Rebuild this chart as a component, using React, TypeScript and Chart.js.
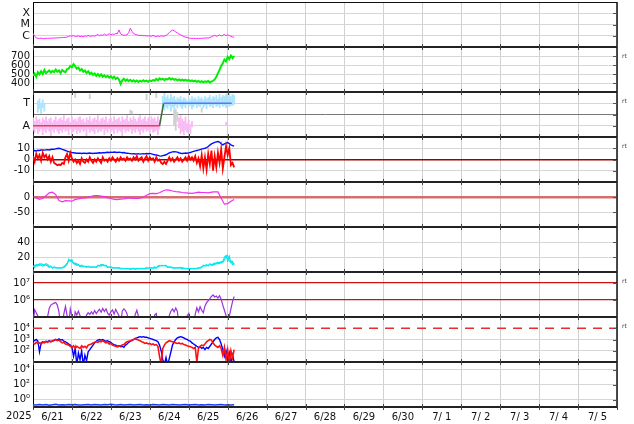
import React, { useEffect, useRef } from 'react';
import { Chart, registerables } from 'chart.js';

Chart.register(...registerables);

const FONT = 'DejaVu Sans';

// ---------------- time axis (hours since 2025-06-21 00:00) ----------------
const DAY_LABELS = ['6/21', '6/22', '6/23', '6/24', '6/25', '6/26', '6/27', '6/28', '6/29', '6/30', '7/ 1', '7/ 2', '7/ 3', '7/ 4', '7/ 5'];
const YEAR_LABEL = '2025';
const SPAN_HOURS = 360;

// ---------------- panel 1: X-ray flux, in units of 1e-6 W/m2 (C-class) ----------------
const xrayC = [
  1.6, 0.9, 0.65, 0.6, 0.58, 0.62, 0.57, 0.55, 0.6, 0.58,
  0.6, 0.62, 0.6, 0.64, 0.62, 0.66, 0.64, 0.7, 0.68, 0.72,
  0.7, 0.78, 0.85, 1.0, 0.9, 1.05, 0.85, 0.9, 0.95, 0.85,
  0.9, 0.82, 0.95, 0.88, 1.1, 0.9, 0.95, 1.0, 0.9, 1.1,
  1.3, 1.0, 1.2, 1.05, 1.4, 1.1, 1.25, 1.5, 1.2, 1.4,
  1.3, 1.6, 1.5, 3.3, 1.5, 1.2, 1.1, 1.15, 1.2, 2.0,
  4.6, 2.5, 1.6, 1.3, 1.2, 1.1, 1.05, 1.1, 1.0, 1.05,
  0.95, 1.0, 0.95, 0.9, 1.1, 0.9, 0.85, 0.95, 0.88, 1.0,
  0.9, 0.95, 1.05, 1.4, 1.9, 2.6, 3.2, 2.8, 2.2, 1.8,
  1.4, 1.2, 1.0, 0.85, 0.75, 0.7, 0.62, 0.6, 0.58, 0.6,
  0.56, 0.58, 0.55, 0.6, 0.58, 0.62, 0.6, 0.65, 0.62, 0.7,
  0.8, 0.95, 1.1, 0.9, 1.0, 1.2, 0.95, 1.1, 1.3, 1.0,
  1.2, 1.05, 0.9, 0.8, 0.72,
];
const XRAY_TICKS = [1e-4, 1e-5, 1e-6];
const XRAY_LABELS = ['X', 'M', 'C'];

// ---------------- panel 2: solar wind speed (km/s), hourly ----------------
const windSpeed = [
  480, 505, 470, 520, 495, 530, 500, 545, 510, 525,
  540, 515, 535, 520, 550, 525, 540, 510, 545, 530,
  520, 555, 560, 590, 575, 610, 585, 560, 570, 540,
  555, 525, 540, 510, 530, 500, 515, 490, 505, 480,
  500, 475, 495, 470, 485, 465, 480, 460, 475, 455,
  470, 445, 460, 440, 390, 430, 448, 425, 440, 420,
  435, 418, 430, 415, 428, 412, 425, 415, 430, 418,
  426, 414, 428, 420, 432, 425, 445, 430, 452, 438,
  448, 432, 445, 440, 455, 438, 450, 436, 444, 430,
  440, 428, 438, 426, 436, 424, 434, 420, 430, 418,
  425, 412, 422, 410, 420, 408, 418, 412, 422, 405,
  415, 425, 440, 470, 510, 545, 590, 620, 660, 640,
  690, 665, 705, 675, 700,
];
const SPEED_TICKS = [700, 600, 500, 400];
const SPEED_LABELS = ['700', '600', '500', '400'];

// ---------------- panel 3: IMF sector (T = +1, A = -1) ----------------
// hourly ranges of "away" samples, from hour 0
const awayLo = [
  -1.4, -1.6, -1.3, -1.7, -1.5, -1.3, -1.8, -1.4, -1.6, -1.3,
  -1.5, -1.9, -1.4, -1.6, -1.3, -1.5, -1.7, -1.4, -1.6, -1.3,
  -1.5, -1.4, -1.8, -1.3, -1.6, -1.5, -1.3, -1.7, -1.4, -1.6,
  -1.3, -1.5, -1.4, -1.9, -1.3, -1.6, -1.4, -1.5, -1.7, -1.3,
  -1.6, -1.4, -1.5, -1.3, -1.8, -1.4, -1.6, -1.3, -1.5, -1.4,
  -1.7, -1.3, -1.6, -1.4, -1.5, -1.9, -1.3, -1.6, -1.4, -1.5,
  -1.3, -1.7, -1.4, -1.6, -1.3, -1.5, -1.8, -1.4, -1.6, -1.3,
  -1.5, -1.4, -1.7, -1.3, -1.6, -1.5, -1.4, -1.8, -1.3,
];
const awayHi = [
  -0.3, -0.6, -0.2, -0.5, -0.4, -0.7, -0.3, -0.5, -0.2, -0.6,
  -0.4, -0.3, -0.7, -0.5, -0.2, -0.6, -0.4, -0.3, -0.5, -0.1,
  -0.6, -0.4, -0.3, -0.7, -0.2, -0.5, -0.4, -0.6, -0.3, -0.2,
  -0.5, -0.4, -0.7, -0.3, -0.5, -0.2, -0.6, -0.4, -0.3, -0.5,
  -0.1, -0.6, -0.4, -0.3, -0.5, -0.2, -0.7, -0.4, -0.3, -0.6,
  -0.2, -0.5, -0.4, -0.3, -0.6, -0.2, -0.5, -0.4, -0.1, -0.6,
  -0.3, -0.5, -0.2, -0.4, -0.6, -0.3, -0.1, -0.5, -0.4, -0.2,
  -0.6, -0.3, -0.5, -0.2, -0.4, -0.3, -0.6, -0.2, -0.5,
];
// hourly ranges of "toward" samples, from hour 80
const TOWARD_START = 80;
const towardLo = [
  0.6, 0.4, 0.7, 0.5, 0.8, 0.3, 0.7, 0.5, 0.8, 0.6,
  0.9, 0.7, 0.5, 0.8, 0.6, 0.9, 0.7, 0.8, 0.5, 0.7,
  0.9, 0.6, 0.8, 0.7, 0.9, 0.6, 0.8, 0.5, 0.9, 0.7,
  0.8, 0.6, 0.9, 0.7, 0.8, 0.6, 0.9, 0.7, 0.8, 0.6,
  0.9, 0.7, 0.8, 0.8, 0.9,
];
const towardHi = [
  1.6, 1.9, 1.5, 1.7, 1.4, 1.8, 1.5, 1.6, 1.3, 1.5,
  1.4, 1.6, 1.3, 1.5, 1.4, 1.2, 1.5, 1.3, 1.6, 1.4,
  1.5, 1.3, 1.6, 1.4, 1.5, 1.3, 1.6, 1.4, 1.5, 1.7,
  1.4, 1.6, 1.5, 1.7, 1.4, 1.8, 1.5, 1.7, 1.6, 1.8,
  1.5, 1.9, 1.6, 1.8, 1.7,
];
const earlyTowardHours = [3, 4, 5, 6, 7];
const earlyTowardLo = [0.2, 0.5, 0.1, 0.6, 0.3];
const earlyTowardHi = [1.2, 1.4, 1.0, 1.3, 0.9];
const lateAwayHours = [90, 91, 92, 93, 94, 95, 96, 97, 98, 119];
const lateAwayLo = [-1.2, -1.7, -1.5, -1.8, -1.4, -1.6, -1.3, -1.7, -1.1, -0.95];
const lateAwayHi = [-0.3, -0.1, -0.4, -0.6, -0.2, -0.8, -0.5, -0.9, -0.6, -0.7];
const otherHours = [26, 35, 60, 61, 70, 76, 87, 88, 89, 104];
const otherLo = [1.5, 1.4, 0.1, 0.0, 1.3, 1.5, -1.0, -1.4, -0.6, 0.2];
const otherHi = [1.9, 1.8, 0.4, 0.3, 1.8, 1.9, 0.4, 0.5, 0.2, 0.6];
const sectorHours = [0, 78, 80.5, 122.5];
const sectorValues = [-1, -1, 1, 1];
const SECTOR_TICKS = [1, 0, -1];
const SECTOR_LABELS = ['T', '', 'A'];

// ---------------- panel 4: IMF Bt / Bz (nT), hourly ----------------
const imfBt = [
  7.8, 8.0, 7.6, 8.2, 8.0, 8.4, 8.5, 8.3, 8.6, 8.8,
  8.5, 8.9, 9.2, 9.0, 9.5, 9.8, 10.0, 9.6, 9.0, 8.5,
  8.0, 7.5, 7.0, 6.6, 6.2, 6.0, 5.8, 5.6, 5.5, 5.6,
  5.4, 5.6, 5.5, 5.3, 5.6, 5.8, 5.5, 5.4, 5.7, 5.6,
  5.8, 6.0, 5.8, 6.1, 6.0, 6.2, 6.4, 6.2, 6.5, 6.3,
  6.6, 6.4, 6.2, 6.5, 6.3, 6.0, 6.2, 5.8, 5.6, 5.4,
  5.2, 5.0, 5.2, 4.9, 5.0, 5.2, 4.8, 5.0, 5.2, 5.0,
  5.3, 5.1, 5.4, 5.0, 4.6, 4.2, 4.0, 3.6, 3.2, 3.0,
  3.4, 3.8, 4.2, 5.0, 5.8, 6.4, 6.8, 7.0, 6.8, 6.5,
  6.0, 5.6, 5.4, 5.5, 5.8, 5.6, 5.9, 6.2, 6.8, 7.2,
  7.6, 8.0, 8.4, 8.8, 9.2, 9.6, 10.0, 10.5, 11.5, 12.8,
  13.8, 14.5, 15.2, 15.6, 16.0, 15.5, 14.0, 13.0, 13.8, 14.5,
  15.0, 14.2, 13.0, 12.4, 11.8,
];
const imfBz = [
  3, -2, 5, 1, 4, -1, 6, 2, 4, 0,
  3, -2, 2, -3, -4, -5, -4.5, -5, -3, -4,
  2, 5, -1, 6, 1, -2, 0, -3, -1, -4,
  1, -2, -3, 0, -2, 2, -1, -3, 0, -2,
  1, -1, -3, 2, -1, 0, -2, 1, -1, 2,
  0, -2, 1, -1, 2, 0, 1, -1, 2, 0,
  1, -1, 2, 0, 3, -1, 1, 2, -2, 1,
  3, -1, 2, 0, 1, -2, 2, -1, 0, -3,
  -4, -2, -4, -1, 2, -1, 1, -2, 0, 2,
  -1, 1, -2, 0, 2, -1, 3, 0, 2, -1,
  3, -3, 1, -6, 4, -8, 2, -9, 5, -4,
  8, -10, 3, -7, 6, -3, 9, -8, 2, 12,
  4, 10, -5, -3, -7,
];
const IMF_TICKS = [10, 0, -10];
const IMF_LABELS = ['10', '0', '-10'];

// ---------------- panel 5: Dst (nT), every 2 hours ----------------
const dst2h = [
  0, -3, -8, -4, 4, 14, 16, 8, -12, -16,
  -12, -13, -14, -8, -6, -4, -3, -1, 2, 5,
  5, 3, 1, -2, -5, -8, -9, -7, -6, -4,
  -4, -5, -5, -4, 0, 6, 11, 12, 11, 14,
  20, 24, 23, 20, 18, 17, 15, 14, 13, 12,
  14, 16, 15, 15, 14, 16, 17, 17, -4, -24,
  -22, -14, -8,
];
const DST_TICKS = [0, -50];
const DST_LABELS = ['0', '-50'];

// ---------------- panel 6: proton density (p/cc), hourly, two sources ----------------
const densityA = [
  7, 9, 8, 10, 9, 11, 10, 9, 11, 10,
  8, 7, 6, 7, 6, 5, 6, 5, 6, 7,
  9, 12, 15, 16, 14, 12, 10, 11, 9, 8,
  9, 7, 8, 7, 8, 7, 6, 7, 6, 7,
  8, 9, 8, 10, 9, 8, 7, 6, 7, 6,
  5, 6, 5, 6, 5, 5, 4, 5, 4, 5,
  4, 5, 4, 4, 5, 4, 5, 4, 5, 4,
  5, 5, 6, 5, 6, 5, 6, 7, 8, 9,
  8, 9, 8, 7, 6, 7, 6, 5, 6, 5,
  6, 5, 6, 5, 4, 5, 4, 5, 4, 5,
  5, 4, 5, 6, 7, 8, 9, 8, 9, 10,
  9, 11, 10, 12, 11, 13, 12, 14, 20, 22,
  15, 21, 12, 14, 9,
];
const densityB = [
  8, 6, 10, 8, 11, 9, 8, 10, 9, 8,
  6, 8, 5, 6, 5, 6, 5, 6, 5, 6,
  8, 10, 17, 14, 16, 11, 12, 9, 10, 7,
  8, 8, 7, 6, 7, 6, 7, 6, 7, 6,
  9, 8, 10, 9, 8, 9, 6, 7, 6, 5,
  6, 5, 6, 5, 4, 4, 5, 4, 5, 4,
  3.5, 4, 5, 3.5, 4, 5, 4, 5, 4, 5,
  6, 5, 5, 6, 5, 7, 5, 8, 9, 8,
  9, 8, 9, 6, 7, 6, 5, 6, 5, 6,
  5, 6, 4, 5, 5, 4, 5, 4, 5, 4,
  4, 5, 6, 5, 6, 9, 8, 10, 8, 11,
  10, 9, 12, 11, 13, 11, 14, 13, 16, 21,
  22, 14, 15, 10, 12,
];
const DENSITY_TICKS = [40, 20];
const DENSITY_LABELS = ['40', '20'];

// ---------------- panel 7: >2 MeV electron flux, in units of 1e5, hourly ----------------
const electronFlux1e5 = [
  0.3, 2.7, 1.8, 1.1, 0.3, 0.3, 0.3, 0.3, 0.3, 1.05,
  3.2, 5.0, 5.8, 6.5, 7.2, 5.0, 2.0, 0.3, 0.3, 1.5,
  4.2, 1.2, 0.3, 3.0, 1.1, 0.3, 2.0, 1.3, 2.2, 1.2,
  0.3, 0.3, 0.3, 1.3, 1.8, 1.4, 2.0, 1.5, 2.4, 1.6,
  2.2, 2.8, 1.9, 3.2, 2.1, 3.0, 1.7, 1.3, 2.0, 2.6,
  1.5, 2.8, 1.8, 1.2, 0.3, 2.2, 3.0, 2.4, 1.5, 0.3,
  0.3, 0.3, 0.3, 1.4, 2.5, 1.1, 0.3, 0.3, 0.3, 0.3,
  0.3, 0.3, 0.3, 0.3, 0.3, 1.3, 1.6, 0.3, 0.3, 0.3,
  0.3, 0.3, 0.3, 0.3, 1.2, 2.2, 3.0, 2.0, 3.4, 2.1,
  0.3, 0.3, 0.3, 0.3, 0.3, 1.2, 1.6, 0.3, 0.3, 0.3,
  1.5, 3.5, 2.0, 4.0, 2.5, 1.8, 4.5, 7.0, 9.0, 12,
  16, 20, 15, 17, 13, 18, 11, 5.0, 2.5, 1.2,
  0.3, 1.1, 3.0, 8.0, 16,
];
const ELECTRON_TICKS = [1e7, 1e6];
const ELECTRON_LABELS = ['10⁷', '10⁶'];

// ---------------- panel 8: proton flux, hourly, two channels ----------------
const protonBlue = [
  890, 790, 1000, 710, 80, 500, 630, 560, 710, 630,
  790, 630, 710, 790, 1000, 890, 1120, 890, 1000, 710,
  630, 500, 400, 320, 200, 32, 160, 6, 63, 16,
  100, 5, 40, 13, 80, 126, 200, 320, 500, 710,
  890, 1000, 890, 1000, 790, 710, 790, 630, 560, 400,
  355, 320, 250, 280, 225, 250, 200, 320, 400, 560,
  710, 790, 1000, 1260, 1410, 1580, 1780, 1580, 1780, 1580,
  1580, 1410, 1260, 1120, 1000, 890, 790, 630, 320, 100,
  16, 6, 25, 5, 20, 80, 320, 630, 1000, 1410,
  1580, 1780, 1580, 1410, 1120, 1000, 790, 710, 500, 400,
  320, 250, 200, 225, 160, 200, 126, 200, 160, 250,
  400, 630, 1000, 1410, 1580, 1000, 400, 126, 32, 100,
  16, 63, 6, 40, 10,
];
const protonRed = [
  500, 400, 560, 450, 500, 400, 560, 500, 630, 560,
  710, 630, 790, 890, 1000, 790, 890, 630, 500, 560,
  400, 355, 320, 250, 200, 280, 160, 250, 200, 160,
  280, 200, 250, 180, 320, 355, 400, 500, 560, 630,
  560, 710, 630, 790, 630, 500, 560, 400, 450, 320,
  280, 250, 225, 250, 280, 320, 355, 500, 630, 710,
  790, 890, 1000, 1120, 1000, 890, 790, 630, 560, 450,
  500, 400, 450, 355, 400, 320, 355, 250, 32, 6,
  160, 320, 500, 630, 790, 710, 630, 560, 500, 450,
  500, 400, 450, 355, 320, 280, 250, 225, 200, 160,
  200, 10, 160, 250, 320, 280, 400, 630, 790, 1000,
  890, 500, 320, 250, 200, 280, 160, 40, 200, 16,
  126, 8, 100, 25, 126,
];
const PROTON_THRESHOLD = 1e4;
const PROTON_TICKS = [1e4, 1e3, 1e2];
const PROTON_LABELS = ['10⁴', '10³', '10²'];

// ---------------- panel 9: every 2 hours ----------------
const lowFlux2h = [
  0.2, 0.18, 0.22, 0.19, 0.21, 0.17, 0.2, 0.23, 0.19, 0.2,
  0.18, 0.21, 0.2, 0.22, 0.19, 0.18, 0.2, 0.21, 0.19, 0.22,
  0.2, 0.18, 0.21, 0.2, 0.24, 0.2, 0.19, 0.21, 0.18, 0.2,
  0.22, 0.19, 0.2, 0.21, 0.18, 0.2, 0.19, 0.22, 0.2, 0.18,
  0.21, 0.2, 0.19, 0.21, 0.2, 0.18, 0.2, 0.22, 0.19, 0.2,
  0.21, 0.18, 0.2, 0.19, 0.21, 0.2, 0.18, 0.2, 0.21, 0.19,
  0.2, 0.18, 0.2,
];
const LOW_TICKS = [1e4, 1e2, 1];
const LOW_LABELS = ['10⁴', '10²', '10⁰'];

// ---------------- helpers ----------------
const series = (values: number[], step = 1, start = 0, scale = 1) =>
  values.map((v, i) => ({ x: start + i * step, y: v * scale }));
const ranges = (hours: number[], lo: number[], hi: number[]) =>
  hours.map((h, i) => ({ x: h, y: [lo[i], hi[i]] }));
const rangesFrom = (start: number, lo: number[], hi: number[]) =>
  lo.map((l, i) => ({ x: start + i, y: [l, hi[i]] }));

const LIGHT = '#d6d6d6';
const near = (a: number, b: number) => Math.abs(a - b) <= Math.abs(b) * 1e-6 + 1e-9;

type GridStyle = { color: string; width: number };
type Panel = {
  id: string;
  type: 'linear' | 'logarithmic';
  min: number;
  max: number;
  ticks: number[];
  labels: string[];
  labelSize: number;
  grid: (v: number) => GridStyle;
  rt: boolean;
};

const light = (): GridStyle => ({ color: LIGHT, width: 1 });

const PANELS: Panel[] = [
  { id: 'p1', type: 'logarithmic', min: 1e-7, max: 1e-3, ticks: XRAY_TICKS, labels: XRAY_LABELS, labelSize: 11, grid: light, rt: false },
  { id: 'p2', type: 'linear', min: 300, max: 800, ticks: SPEED_TICKS, labels: SPEED_LABELS, labelSize: 10, grid: light, rt: true },
  { id: 'p3', type: 'linear', min: -2, max: 2, ticks: SECTOR_TICKS, labels: SECTOR_LABELS, labelSize: 11, grid: (v) => (near(v, 0) ? { color: '#777777', width: 1 } : light()), rt: true },
  { id: 'p4', type: 'linear', min: -20, max: 20, ticks: IMF_TICKS, labels: IMF_LABELS, labelSize: 10, grid: (v) => (near(v, 0) ? { color: '#a00000', width: 1.4 } : light()), rt: true },
  { id: 'p5', type: 'linear', min: -100, max: 50, ticks: DST_TICKS, labels: DST_LABELS, labelSize: 10, grid: (v) => (near(v, 0) ? { color: 'rgba(205,95,95,0.9)', width: 2.5 } : light()), rt: false },
  { id: 'p6', type: 'linear', min: 0, max: 60, ticks: DENSITY_TICKS, labels: DENSITY_LABELS, labelSize: 10, grid: light, rt: false },
  { id: 'p7', type: 'logarithmic', min: 1e5, max: 4.4e7, ticks: ELECTRON_TICKS, labels: ELECTRON_LABELS, labelSize: 10, grid: () => ({ color: '#cc1010', width: 1.3 }), rt: true },
  { id: 'p8', type: 'logarithmic', min: 10, max: 1e5, ticks: PROTON_TICKS, labels: PROTON_LABELS, labelSize: 10, grid: (v) => (near(v, PROTON_THRESHOLD) ? { color: 'rgba(0,0,0,0)', width: 0 } : light()), rt: true },
  { id: 'p9', type: 'logarithmic', min: 0.1, max: 1e5, ticks: LOW_TICKS, labels: LOW_LABELS, labelSize: 10, grid: light, rt: false },
];

function yScale(p: Panel) {
  return {
    type: p.type,
    position: 'left',
    stack: 'panels',
    stackWeight: 1,
    min: p.min,
    max: p.max,
    stacked: false,
    clip: true,
    offset: false,
    afterBuildTicks: (s: any) => {
      s.ticks = p.ticks.map((v) => ({ value: v }));
    },
    afterFit: (s: any) => {
      s.width = 33;
      s.paddingTop = 0;
      s.paddingBottom = 0;
    },
    ticks: {
      autoSkip: false,
      padding: 3,
      color: '#111',
      font: { family: FONT, size: p.labelSize },
      callback: (_v: any, i: number) => p.labels[i],
    },
    grid: {
      drawTicks: false,
      offset: false,
      color: (c: any) => (c.tick ? p.grid(c.tick.value).color : 'rgba(0,0,0,0)'),
      lineWidth: (c: any) => (c.tick ? p.grid(c.tick.value).width : 0),
    },
    border: { display: true, color: '#000', width: 1 },
  };
}

const framePlugin = {
  id: 'panelFrame',
  afterDraw(chart: any) {
    const { ctx, chartArea: a } = chart;
    const xs = chart.scales.x;
    ctx.save();
    // top and right frame
    ctx.strokeStyle = '#111';
    ctx.lineWidth = 1;
    ctx.beginPath();
    ctx.moveTo(a.left, a.top + 0.5);
    ctx.lineTo(a.right, a.top + 0.5);
    ctx.stroke();
    ctx.lineWidth = 1.5;
    ctx.beginPath();
    ctx.moveTo(a.right, a.top);
    ctx.lineTo(a.right, a.bottom);
    ctx.stroke();
    // small tick marks on the right frame at each grid value
    ctx.strokeStyle = '#555';
    ctx.lineWidth = 1;
    PANELS.forEach((p) => {
      const s = chart.scales[p.id];
      p.ticks.forEach((v) => {
        const y = Math.round(s.getPixelForValue(v)) + 0.5;
        ctx.beginPath();
        ctx.moveTo(a.right - 4, y);
        ctx.lineTo(a.right, y);
        ctx.stroke();
      });
    });
    // panel separators
    ctx.strokeStyle = '#222';
    ctx.lineWidth = 2.2;
    PANELS.forEach((p) => {
      const s = chart.scales[p.id];
      ctx.beginPath();
      ctx.moveTo(a.left, s.bottom);
      ctx.lineTo(a.right, s.bottom);
      ctx.stroke();
    });
    // day ticks on separators
    ctx.strokeStyle = '#444';
    ctx.lineWidth = 1;
    xs.ticks.forEach((t: any) => {
      if (t.value % 24 !== 0) return;
      const x = Math.round(xs.getPixelForValue(t.value)) + 0.5;
      PANELS.forEach((p) => {
        const yb = chart.scales[p.id].bottom;
        ctx.beginPath();
        ctx.moveTo(x, yb - 3);
        ctx.lineTo(x, yb + 3);
        ctx.stroke();
      });
    });
    // "rt" markers
    ctx.fillStyle = '#444';
    ctx.font = `6px ${FONT}`;
    ctx.textAlign = 'left';
    ctx.textBaseline = 'middle';
    PANELS.forEach((p) => {
      if (!p.rt) return;
      const s = chart.scales[p.id];
      ctx.fillText('rt', a.right + 5, s.top + 9.5);
    });
    // year label
    ctx.fillStyle = '#111';
    ctx.font = `10px ${FONT}`;
    ctx.textAlign = 'right';
    ctx.textBaseline = 'middle';
    ctx.fillText(YEAR_LABEL, a.left - 1.5, a.bottom + 9.5);
    ctx.restore();
  },
};

export default function App() {
  const ref = useRef<HTMLCanvasElement | null>(null);

  useEffect(() => {
    if (!ref.current) return;
    Chart.defaults.font.family = FONT;

    const xTicks: number[] = [];
    DAY_LABELS.forEach((_, d) => {
      xTicks.push(d * 24, d * 24 + 12);
    });
    xTicks.push(SPAN_HOURS);

    const line = (yAxisID: string, data: any[], color: string, width: number, order = 1, extra: any = {}) => ({
      type: 'line',
      data,
      xAxisID: 'x',
      yAxisID,
      borderColor: color,
      borderWidth: width,
      pointRadius: 0,
      tension: 0,
      fill: false,
      order,
      ...extra,
    });
    const bars = (data: any[], color: string) => ({
      type: 'bar',
      data,
      xAxisID: 'x',
      yAxisID: 'p3',
      backgroundColor: color,
      borderWidth: 0,
      barThickness: 1.2,
      stack: 'sector',
      order: 5,
    });

    const sectorLine = sectorHours.map((h, i) => ({ x: h, y: sectorValues[i] }));

    const datasets: any[] = [
      line('p1', series(xrayC, 1, 0, 1e-6), '#ff22ff', 1),
      line('p2', series(windSpeed), '#00ee00', 2),
      bars(rangesFrom(0, awayLo, awayHi), 'rgb(249,186,244)'),
      bars(rangesFrom(TOWARD_START, towardLo, towardHi), 'rgb(170,228,252)'),
      bars(ranges(earlyTowardHours, earlyTowardLo, earlyTowardHi), 'rgb(170,228,252)'),
      bars(ranges(lateAwayHours, lateAwayLo, lateAwayHi), 'rgb(249,186,244)'),
      bars(ranges(otherHours, otherLo, otherHi), 'rgb(208,208,208)'),
      line('p3', sectorLine, '#6070ff', 1.5, 1, {
        segment: {
          borderColor: (c: any) =>
            c.p0.parsed.y !== c.p1.parsed.y ? '#3d6b3d' : c.p0.parsed.y < 0 ? '#e0405a' : '#6070ff',
        },
      }),
      line('p4', series(imfBt), '#0010ff', 1.4, 2),
      line('p4', series(imfBz), '#ff0000', 1.8, 1),
      line('p5', series(dst2h, 2), '#f030f0', 1.2),
      line('p6', series(densityA), '#00e8ee', 1.1),
      line('p6', series(densityB), '#00e8ee', 1.1),
      line('p7', series(electronFlux1e5, 1, 0, 1e5), '#9933dd', 1.2),
      line('p8', series(protonBlue), '#0000ff', 1.4, 2),
      line('p8', series(protonRed), '#ff1010', 1.6, 1),
      line('p8', [{ x: 0, y: PROTON_THRESHOLD }, { x: SPAN_HOURS, y: PROTON_THRESHOLD }], '#e03030', 1.5, 3, { borderDash: [9, 7] }),
      line('p9', series(lowFlux2h, 2), '#1a3cff', 1.5),
    ];

    const scales: any = {
      x: {
        type: 'linear',
        position: 'bottom',
        min: 0,
        max: SPAN_HOURS,
        offset: false,
        afterBuildTicks: (s: any) => {
          s.ticks = xTicks.map((v) => ({ value: v }));
        },
        afterFit: (s: any) => {
          s.height = 17;
          s.paddingLeft = 0;
          s.paddingRight = 0;
        },
        ticks: {
          autoSkip: false,
          maxRotation: 0,
          minRotation: 0,
          padding: 4,
          color: '#111',
          font: { family: FONT, size: 10 },
          callback: (v: number) => (v % 24 === 12 ? DAY_LABELS[(v - 12) / 24] : ''),
        },
        grid: {
          drawTicks: false,
          offset: false,
          color: (c: any) => (c.tick && c.tick.value % 24 === 0 ? '#d0d0d0' : 'rgba(0,0,0,0)'),
          lineWidth: 1,
        },
        border: { display: false },
      },
    };
    // bottom panel first: the last stacked axis is laid out at the top
    [...PANELS].reverse().forEach((p) => {
      scales[p.id] = yScale(p);
    });

    const chart = new Chart(ref.current, {
      type: 'line',
      data: { datasets },
      options: {
        animation: false,
        responsive: false,
        devicePixelRatio: 1,
        events: [],
        layout: { padding: { left: 0, right: 17, top: 2, bottom: 0 }, autoPadding: false } as any,
        plugins: { legend: { display: false }, tooltip: { enabled: false } },
        scales,
      } as any,
      plugins: [framePlugin],
    } as any);

    return () => chart.destroy();
  }, []);

  return (
    <div style={{ position: 'fixed', left: 0, top: 0, width: 634, height: 424, background: '#fff' }}>
      <canvas ref={ref} width={634} height={424} style={{ display: 'block' }} />
    </div>
  );
}
